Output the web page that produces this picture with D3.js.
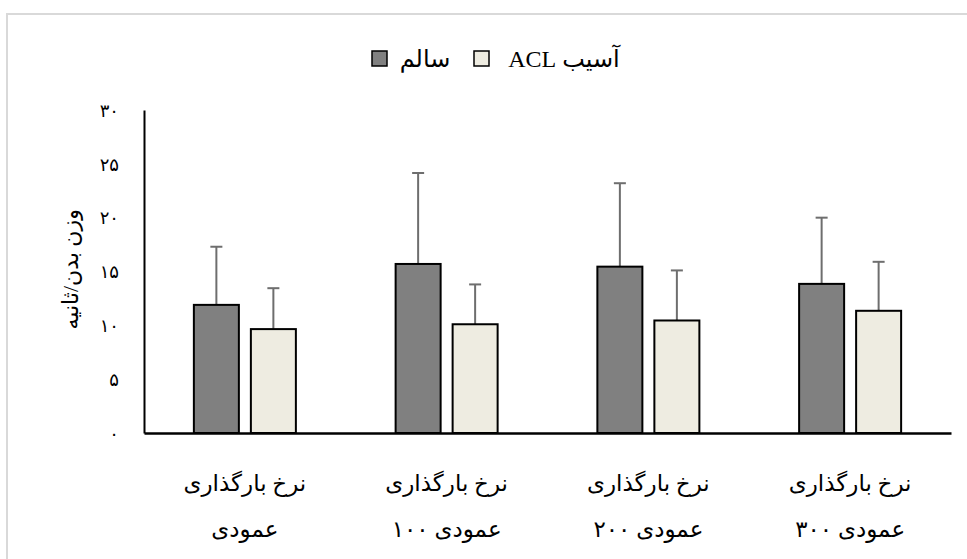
<!DOCTYPE html>
<html>
<head>
<meta charset="utf-8">
<script src="https://cdn.jsdelivr.net/npm/d3@7"></script>
<style>
  body { margin: 0; background: #fff; }
  svg text { font-family: "Liberation Serif", "DejaVu Sans", serif; fill: #000; }
</style>
</head>
<body>
<div id="chart"></div>
<script>
// Chart values
var categories = [
  ['نرخ بارگذاری', 'عمودی'],
  ['نرخ بارگذاری', 'عمودی ۱۰۰'],
  ['نرخ بارگذاری', 'عمودی ۲۰۰'],
  ['نرخ بارگذاری', 'عمودی ۳۰۰']
];
var seriesNames = ['سالم', 'آسیب ACL'];
var healthyMean = [11.9, 15.7, 15.45, 13.85];
var healthySD = [5.4, 8.45, 7.75, 6.15];
var aclMean = [9.65, 10.1, 10.45, 11.35];
var aclSD = [3.8, 3.7, 4.65, 4.55];
var yTicks = [0, 5, 10, 15, 20, 25, 30];
var yTitle = 'وزن بدن/ثانیه';

var width = 967, height = 559;
var margins = { left: 144, right: 16, top: 110, bottom: 126 };
var colors = ['#808080', '#eeece1'];

var toPersian = function(n) {
  return String(n).replace(/\d/g, function(d) { return '۰۱۲۳۴۵۶۷۸۹'[+d]; });
};

var svg = d3.select('#chart').append('svg')
            .attr('width', width)
            .attr('height', height);

// light frame round the chart area
svg.append('rect')
   .attr('x', 7).attr('y', 14)
   .attr('width', 975).attr('height', 560)
   .style('fill', 'none')
   .style('stroke', '#d9d9d9')
   .style('stroke-width', 2);

var x = d3.scaleBand()
          .domain(d3.range(categories.length))
          .range([margins.left, width - margins.right])
          .paddingInner(0.4944)
          .paddingOuter(0.2472);

var xSub = d3.scaleBand()
             .domain([0, 1])
             .range([0, x.bandwidth()])
             .paddingInner(0.2105);

var y = d3.scaleLinear()
          .domain([0, 30])
          .range([height - margins.bottom, margins.top]);

// y axis
var yAxis = d3.axisLeft(y)
              .tickValues(yTicks)
              .tickSize(0)
              .tickPadding(25)
              .tickFormat(toPersian);

var gy = svg.append('g')
            .attr('transform', 'translate(' + margins.left + ',0)')
            .call(yAxis);
gy.select('.domain').style('stroke', '#000').style('stroke-width', 2);
gy.selectAll('.tick text')
  .style('font-size', '18px')
  .style('font-family', '"DejaVu Sans", sans-serif')
  .attr('dy', '0.35em');

// bars
var data = [];
categories.forEach(function(c, i) {
  data.push({ cat: i, s: 0, v: healthyMean[i], sd: healthySD[i] });
  data.push({ cat: i, s: 1, v: aclMean[i], sd: aclSD[i] });
});

var barCenter = function(d) { return x(d.cat) + xSub(d.s) + xSub.bandwidth() / 2; };

var bars = svg.append('g').classed('bars', true);

bars.selectAll('line.err')
    .data(data)
    .enter()
    .append('line')
    .classed('err', true)
    .attr('x1', barCenter)
    .attr('x2', barCenter)
    .attr('y1', function(d) { return y(d.v); })
    .attr('y2', function(d) { return y(d.v + d.sd); })
    .style('stroke', '#6e6e6e')
    .style('stroke-width', 2);

bars.selectAll('line.cap')
    .data(data)
    .enter()
    .append('line')
    .classed('cap', true)
    .attr('x1', function(d) { return barCenter(d) - 6; })
    .attr('x2', function(d) { return barCenter(d) + 6; })
    .attr('y1', function(d) { return y(d.v + d.sd); })
    .attr('y2', function(d) { return y(d.v + d.sd); })
    .style('stroke', '#6e6e6e')
    .style('stroke-width', 2);

bars.selectAll('rect')
    .data(data)
    .enter()
    .append('rect')
    .attr('x', function(d) { return x(d.cat) + xSub(d.s); })
    .attr('y', function(d) { return y(d.v); })
    .attr('width', xSub.bandwidth())
    .attr('height', function(d) { return y(0) - y(d.v); })
    .style('fill', function(d) { return colors[d.s]; })
    .style('stroke', '#000')
    .style('stroke-width', 2);

// x axis line
var xAxis = d3.axisBottom(x).tickSize(0).tickFormat('');
var gx = svg.append('g')
            .attr('transform', 'translate(0,' + y(0) + ')')
            .call(xAxis);
gx.select('.domain').style('stroke', '#000').style('stroke-width', 2.5);

// category labels, two lines each
var labels = svg.append('g').classed('xlabels', true);
categories.forEach(function(c, i) {
  c.forEach(function(line, j) {
    labels.append('text')
          .attr('x', x(i) + x.bandwidth() / 2)
          .attr('y', 491 + j * 46)
          .attr('direction', 'rtl')
          .attr('text-anchor', 'middle')
          .style('font-size', '23px')
          .text(line);
  });
});

// y title
svg.append('text')
   .attr('transform', 'translate(78,' + y(15.2) + ') rotate(-90)')
   .attr('direction', 'rtl')
   .attr('text-anchor', 'middle')
   .style('font-size', '22px')
   .text(yTitle);

// legend
var legendItems = [
  { name: seriesNames[0], color: colors[0], box: 372, text: 425 },
  { name: seriesNames[1], color: colors[1], box: 474, text: 564 }
];
var legend = svg.append('g').classed('legend', true);
legendItems.forEach(function(d) {
  legend.append('rect')
        .attr('x', d.box).attr('y', 51)
        .attr('width', 15).attr('height', 15)
        .style('fill', d.color)
        .style('stroke', '#000')
        .style('stroke-width', 1.5);
  legend.append('text')
        .attr('x', d.text).attr('y', 67)
        .attr('direction', 'rtl')
        .attr('text-anchor', 'middle')
        .style('font-size', '24px')
        .text(d.name);
});
</script>
</body>
</html>
